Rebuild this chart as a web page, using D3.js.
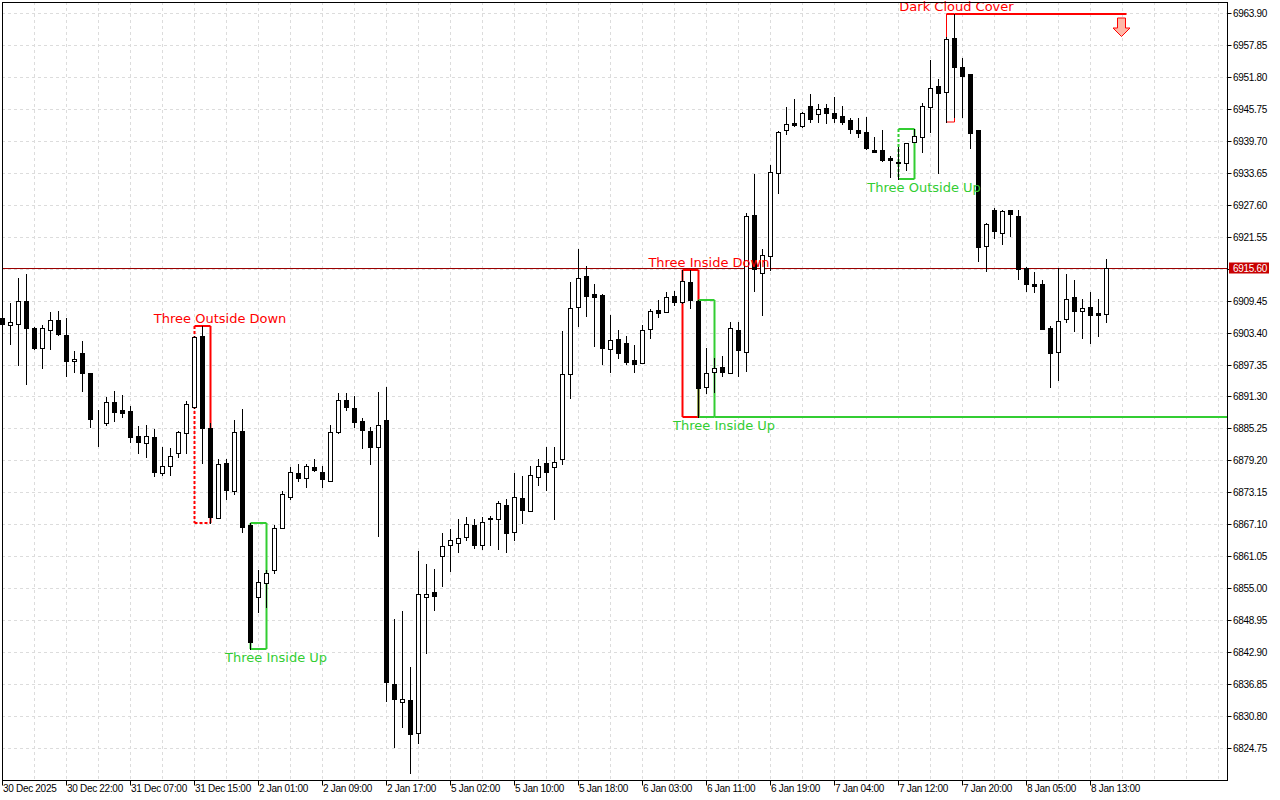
<!DOCTYPE html>
<html><head><meta charset="utf-8">
<script src="https://cdn.jsdelivr.net/npm/d3@7"></script>
<style>body{margin:0;background:#fff}svg{display:block}</style>
</head><body>
<svg id="c" width="1280" height="800"></svg>
<script>
// ---- DATA (hourly bars) ----
const openP = [6906.2,6904.8,6905.1,6909.4,6904.2,6900.4,6903.8,6905.7,6902.9,6898.0,
6899.6,6895.7,6886.8,6886.2,6890.2,6888.7,6888.5,6883.8,6882.5,6883.6,
6876.8,6878.2,6880.6,6884.4,6889.4,6902.7,6885.4,6868.4,6878.8,6873.5,
6884.8,6867.0,6853.3,6856.1,6858.4,6866.4,6872.3,6876.9,6875.9,6878.0,
6877.1,6875.3,6884.5,6890.6,6889.2,6886.7,6884.7,6881.7,6886.8,6837.0,
6833.5,6833.9,6827.6,6853.4,6854.3,6861.2,6863.3,6863.6,6864.8,6866.9,
6863.3,6868.4,6868.1,6870.7,6865.6,6872.1,6869.7,6876.0,6878.8,6877.9,
6879.4,6895.6,6908.3,6914.1,6910.7,6910.5,6900.2,6902.2,6901.4,6898.2,
6897.6,6904.0,6907.7,6907.2,6910.3,6909.2,6913.0,6909.4,6893.1,6895.9,
6896.8,6895.8,6903.9,6899.8,6925.6,6914.6,6917.9,6933.5,6941.8,6943.0,
6942.5,6946.2,6944.7,6945.8,6944.9,6944.4,6943.6,6941.7,6941.4,6937.9,
6937.9,6936.4,6935.7,6935.4,6939.4,6940.3,6946.0,6950.1,6948.9,6959.1,
6953.7,6952.3,6941.7,6919.7,6926.6,6922.2,6926.6,6925.4,6915.7,6912.5,
6912.5,6904.2,6899.7,6905.9,6910.1,6907.5,6908.2,6907.0,6906.9];
const highP = [6907.1,6909.0,6913.7,6914.4,6904.4,6904.9,6907.2,6907.5,6906.1,6899.9,
6901.8,6895.8,6888.7,6891.2,6892.3,6891.6,6889.5,6885.7,6886.0,6885.2,
6881.7,6881.6,6884.7,6890.4,6902.7,6904.7,6886.2,6879.4,6879.4,6886.9,
6888.9,6867.4,6858.5,6858.5,6867.0,6873.5,6878.0,6878.5,6878.5,6879.4,
6878.2,6886.0,6891.9,6891.9,6891.4,6887.3,6885.6,6892.1,6893.1,6849.2,
6850.7,6840.2,6862.1,6859.6,6858.7,6865.4,6866.2,6868.1,6868.5,6868.1,
6868.5,6868.6,6871.5,6872.0,6876.9,6876.3,6878.1,6879.4,6881.8,6881.8,
6903.6,6912.9,6919.2,6916.0,6912.6,6910.6,6906.7,6903.9,6902.7,6901.0,
6904.8,6907.8,6909.5,6911.0,6911.2,6915.2,6915.2,6909.5,6900.4,6898.5,
6898.9,6905.3,6905.3,6926.1,6933.3,6919.2,6935.1,6941.5,6946.0,6947.5,
6945.2,6948.6,6946.6,6946.6,6948.0,6946.2,6944.0,6943.9,6944.2,6940.3,
6941.8,6936.8,6938.5,6939.2,6941.9,6946.9,6955.0,6951.4,6959.3,6963.6,
6955.3,6952.3,6941.8,6924.1,6926.9,6926.6,6926.6,6926.6,6915.8,6914.8,
6913.3,6904.6,6915.7,6914.5,6913.3,6909.7,6911.0,6909.7,6917.4];
const lowP = [6903.9,6901.2,6897.2,6893.6,6900.3,6896.6,6900.2,6902.9,6895.2,6895.9,
6892.4,6885.6,6882.0,6886.0,6886.7,6887.5,6882.7,6880.6,6879.8,6876.3,
6876.4,6876.4,6879.9,6880.6,6889.1,6878.7,6867.4,6868.3,6872.0,6872.8,
6865.7,6843.6,6850.6,6851.5,6858.0,6866.4,6872.0,6875.3,6874.2,6877.3,
6874.2,6875.3,6884.3,6888.7,6885.6,6881.6,6878.6,6865.0,6833.7,6825.0,
6828.8,6820.0,6825.8,6842.8,6850.9,6855.4,6858.3,6861.9,6864.1,6862.7,
6862.4,6863.3,6862.4,6861.9,6864.1,6867.4,6869.7,6874.6,6873.7,6868.2,
6878.5,6891.0,6904.6,6906.6,6900.9,6897.4,6895.9,6898.6,6897.4,6895.9,
6897.6,6902.4,6906.3,6907.2,6908.6,6909.0,6908.1,6887.5,6891.9,6892.1,
6895.2,6895.7,6895.2,6896.2,6911.2,6906.7,6915.2,6929.7,6940.9,6942.5,
6942.2,6943.3,6943.3,6943.0,6943.3,6942.8,6941.2,6940.4,6938.1,6937.6,
6935.8,6932.9,6932.4,6934.1,6939.4,6937.6,6941.3,6933.5,6943.2,6944.2,
6944.2,6938.4,6916.9,6915.1,6921.3,6920.1,6921.7,6913.5,6911.3,6911.1,
6904.0,6893.1,6894.4,6905.3,6903.7,6902.3,6901.5,6902.8,6905.4];
const closeP = [6905.0,6905.4,6909.3,6904.3,6900.5,6904.2,6905.7,6903.1,6898.1,6898.4,
6895.7,6887.0,6886.8,6890.3,6888.4,6888.2,6883.7,6882.7,6883.8,6877.0,
6878.2,6880.1,6884.6,6889.9,6902.5,6885.4,6868.5,6878.5,6873.6,6884.6,
6866.7,6844.9,6856.3,6858.0,6866.4,6872.8,6877.1,6875.9,6878.2,6877.4,
6875.7,6884.6,6890.6,6889.4,6886.5,6884.9,6881.8,6886.0,6837.3,6834.0,
6834.0,6827.4,6853.9,6853.9,6853.6,6863.0,6864.1,6864.5,6867.1,6863.3,
6867.5,6868.1,6871.1,6865.5,6872.2,6869.9,6876.4,6878.1,6877.1,6879.0,
6895.6,6908.0,6913.8,6910.4,6910.2,6900.4,6902.0,6899.5,6897.8,6897.4,
6903.9,6907.5,6907.1,6910.2,6909.1,6913.2,6909.5,6893.0,6895.7,6896.6,
6896.0,6904.2,6900.0,6925.4,6915.4,6918.0,6933.7,6941.4,6942.8,6942.7,
6944.9,6943.8,6945.6,6945.0,6944.0,6943.3,6941.9,6941.1,6938.4,6937.6,
6936.1,6936.0,6935.4,6939.2,6940.6,6946.3,6949.6,6948.8,6958.9,6953.7,
6952.0,6941.2,6919.5,6923.9,6922.6,6926.3,6925.8,6915.5,6912.5,6912.2,
6904.0,6899.5,6905.6,6909.7,6907.5,6908.0,6906.8,6906.8,6915.6];

const timeLabels = ["30 Dec 2025","30 Dec 22:00","31 Dec 07:00","31 Dec 15:00","2 Jan 01:00",
"2 Jan 09:00","2 Jan 17:00","5 Jan 02:00","5 Jan 10:00","5 Jan 18:00","6 Jan 03:00",
"6 Jan 11:00","6 Jan 19:00","7 Jan 04:00","7 Jan 12:00","7 Jan 20:00","8 Jan 05:00","8 Jan 13:00"];
const timeLabelBars = [0,8,16,24,32,40,48,56,64,72,80,88,96,104,112,120,128,136];

const priceTicks = [6963.90,6957.85,6951.80,6945.75,6939.70,6933.65,6927.60,6921.55,6915.50,
6909.45,6903.40,6897.35,6891.30,6885.25,6879.20,6873.15,6867.10,6861.05,6855.00,
6848.95,6842.90,6836.85,6830.80,6824.75];
const lastPrice = 6915.60;

const patternNames = ["Three Outside Down","Three Inside Up","Three Inside Down","Three Inside Up","Three Outside Up","Dark Cloud Cover"];
const patternStart = [24,31,85,87,112,118];
const patternEnd   = [26,33,87,89,114,119];
const patternBull  = [false,true,false,true,true,false];
const patternLabelBar = [27.2,34.2,88.3,90.2,115.2,119.25];

// ---- CHART ----
const W=1280,H=800, L=2, R=1227, T=2, B=780;
const svg=d3.select("#c");
const N=openP.length;
const bars=d3.range(N).map(i=>({i,o:openP[i],h:highP[i],l:lowP[i],c:closeP[i]}));

const x=d3.scaleLinear().domain([0,138]).range([2.5,1106.5]);
const y=d3.scaleLinear().domain([6824.75,6963.90]).range([748.3,12.7]);
const py=v=>Math.round(y(v))+0.5;
const px=v=>Math.floor(x(v))+0.5;

svg.append("rect").attr("width",W).attr("height",H).attr("fill","#fff");

// grid
const grid=svg.append("g").attr("stroke","#dcdcdc").attr("stroke-dasharray","3,3").attr("stroke-width",1);
grid.selectAll("line.h").data(priceTicks).join("line").attr("class","h")
  .attr("x1",L).attr("x2",R).attr("y1",d=>py(d)).attr("y2",d=>py(d));
grid.selectAll("line.v").data(d3.range(0,153,4)).join("line").attr("class","v")
  .attr("y1",T).attr("y2",B).attr("x1",d=>px(d)).attr("x2",d=>px(d));

// bid line
svg.append("line").attr("x1",L).attr("x2",R).attr("y1",py(lastPrice)).attr("y2",py(lastPrice))
  .attr("stroke","#9a0000").attr("stroke-width",1);

// patterns (behind candles)
const pg=svg.append("g");
patternNames.forEach((name,k)=>{
  const s=patternStart[k], e=patternEnd[k];
  const hi=d3.max(bars.slice(s,e+1),d=>d.h), lo=d3.min(bars.slice(s,e+1),d=>d.l);
  const col=patternBull[k]?"#32cd32":"#ff0000";
  const x0=px(s), x1=px(e), yt=Math.round(y(hi)), yb=Math.round(y(lo));
  const g=pg.append("g").attr("stroke",col).attr("fill","none");
  const thin = name==="Dark Cloud Cover";
  const sw = thin?1:2;
  const seg=(a,b,c,d,dash,w)=>g.append("line").attr("x1",a).attr("y1",b).attr("x2",c).attr("y2",d)
      .attr("stroke-width",w||sw).attr("stroke-dasharray",dash?"3,2":null);
  const dashLeft = (k===0||k===4), dashBottom=(k===0);
  seg(x0,yt,x1,yt,false,2);
  seg(x1,yt,x1,yb,false);
  seg(x0,yt,x0,yb,dashLeft);
  seg(x0,yb,x1,yb,dashBottom);
  if(k===3){ seg(x1,yb,R,yb,false,2); }
  if(thin){
    seg(x1,yt,x(140.5),yt,false,2);
    const cx=x(140)-1, ty=yt+4;
    svg.append("path")
      .attr("d",`M${cx-4},${ty} L${cx+4},${ty} L${cx+4},${ty+10} L${cx+8.5},${ty+10} L${cx},${ty+18.5} L${cx-8.5},${ty+10} L${cx-4},${ty+10} Z`)
      .attr("fill","#ffb8a8").attr("stroke","#ff0000").attr("stroke-width",1);
  }
  svg.append("text").attr("x",x(patternLabelBar[k]))
    .attr("y",patternBull[k]? yb+13 : yt-3)
    .attr("text-anchor","middle").attr("fill",col)
    .attr("font-family","DejaVu Sans").attr("font-size","13px").text(name)
    .attr("class","plabel");
});

// candles
const cg=svg.append("g");
cg.selectAll("line.w").data(bars).join("line").attr("class","w")
  .attr("x1",d=>px(d.i)).attr("x2",d=>px(d.i))
  .attr("y1",d=>Math.round(y(d.h))).attr("y2",d=>Math.round(y(d.l))+1)
  .attr("stroke","#000").attr("stroke-width",1);
cg.selectAll("rect.b").data(bars).join("rect").attr("class","b")
  .attr("x",d=>px(d.i)-2).attr("width",4)
  .attr("y",d=>Math.round(y(Math.max(d.o,d.c)))+0.5)
  .attr("height",d=>Math.max(0,Math.round(y(Math.min(d.o,d.c)))-Math.round(y(Math.max(d.o,d.c)))))
  .attr("fill",d=>d.c<d.o?"#000":"#fff").attr("stroke","#000").attr("stroke-width",1);

svg.selectAll("text.plabel").raise();

// frame
svg.append("rect").attr("x",L+0.5).attr("y",T+0.5).attr("width",R-L).attr("height",B-T)
  .attr("fill","none").attr("stroke","#000").attr("stroke-width",1);

// right axis
const ax=svg.append("g").attr("font-family","Liberation Sans").attr("font-size","10px").attr("letter-spacing","-0.3px");
ax.selectAll("line").data(priceTicks).join("line")
  .attr("x1",R+0.5).attr("x2",R+4.5).attr("y1",d=>py(d)).attr("y2",d=>py(d)).attr("stroke","#000");
ax.selectAll("text").data(priceTicks).join("text")
  .attr("x",R+6).attr("y",d=>py(d)).attr("dy","0.35em").attr("fill","#000")
  .text(d=>d3.format(".2f")(d));

// last price label
const lp=svg.append("g");
lp.append("rect").attr("x",R+2).attr("y",py(lastPrice)-6).attr("width",40).attr("height",11).attr("fill","#c80000");
lp.append("text").attr("x",R+6).attr("y",py(lastPrice)).attr("dy","0.35em").attr("fill","#fff")
  .attr("font-family","Liberation Sans").attr("font-size","10px").attr("letter-spacing","-0.3px")
  .text(d3.format(".2f")(lastPrice));

// bottom axis
const bx=svg.append("g").attr("font-family","Liberation Sans").attr("font-size","10px").attr("letter-spacing","-0.3px");
bx.selectAll("line").data(timeLabelBars).join("line")
  .attr("x1",d=>px(d)).attr("x2",d=>px(d)).attr("y1",B+0.5).attr("y2",B+5.5).attr("stroke","#000");
bx.selectAll("text").data(timeLabels).join("text")
  .attr("x",(d,i)=>px(timeLabelBars[i])+0.5).attr("y",B+12).attr("fill","#000").text(d=>d);
</script>
</body></html>
